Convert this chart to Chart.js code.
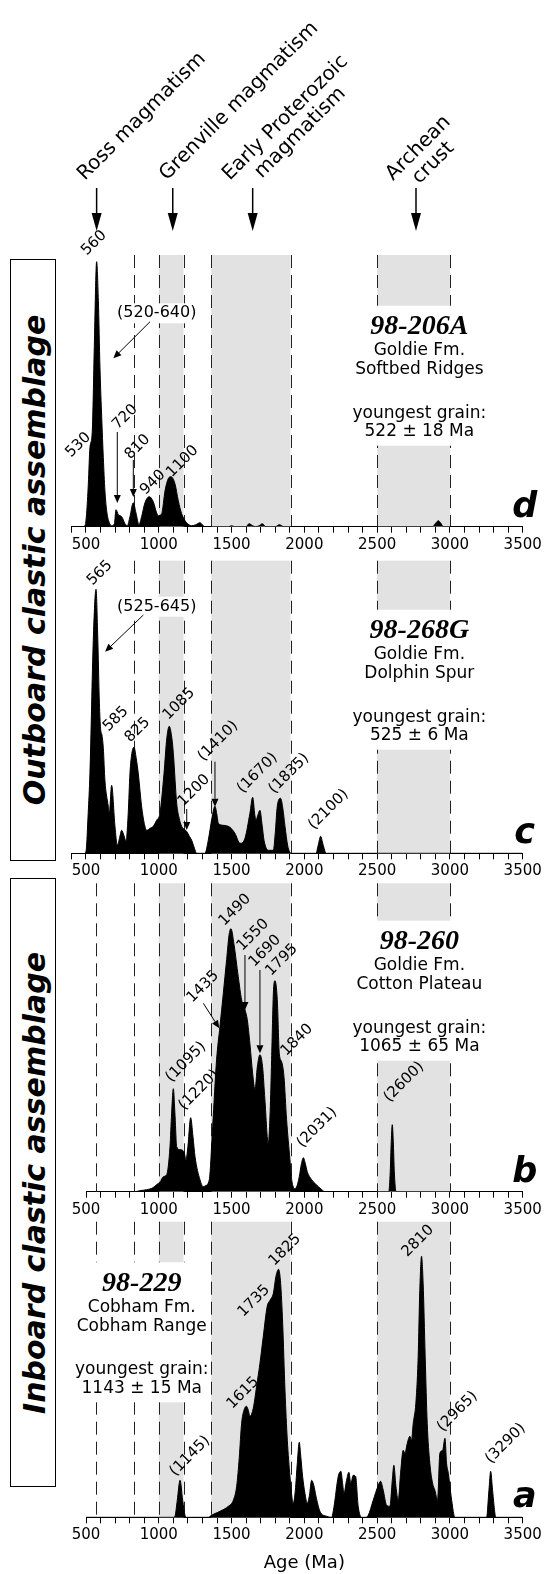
<!DOCTYPE html>
<html>
<head>
<meta charset="utf-8">
<script src="https://cdn.jsdelivr.net/npm/chart.js@4.4.1/dist/chart.umd.min.js"></script>
<style>
  html, body { margin: 0; padding: 0; background: #fff; }
  #page { position: relative; width: 547px; height: 1574px; overflow: hidden; }
  canvas { position: absolute; left: 0; }
  .group { position: absolute; left: 10px; width: 44px; border: 1px solid #000; }
  .group span {
    position: absolute; left: 52%; top: 50%;
    transform: translate(-50%, -50%) rotate(-90deg);
    white-space: nowrap; font: italic bold 30px "DejaVu Sans"; color: #000;
  }
</style>
</head>
<body>
<div id="page">
  <div class="group" style="top:259px;height:600px"><span>Outboard clastic assemblage</span></div>
  <div class="group" style="top:878px;height:607px"><span>Inboard clastic assemblage</span></div>
  <canvas id="chartD" width="547" height="560" style="top:0px"></canvas>
  <canvas id="chartC" width="547" height="340" style="top:540px"></canvas>
  <canvas id="chartB" width="547" height="345" style="top:875px"></canvas>
  <canvas id="chartA" width="547" height="359" style="top:1215px"></canvas>
</div>
<script>
/* ─── Data: [age (Ma), relative probability] ─── */

const sample206A = [
  [470,0],[493,1],[504,13],[516,43],[527,79],[543,95],[557,180],[573,265],[585,226],[596,159],
  [608,109],[619,69],[630,36],[642,16],[660,4],[677,1],[695,3],[706,17],[722,12],[745,10],
  [768,3],[784,1],[802,10],[825,24],[843,14],[864,2],[882,10],[905,24],[935,30],[962,25],
  [985,14],[997,11],[1020,13],[1043,36],[1065,48],[1084,50],[1111,43],[1134,26],[1157,13],[1191,4],
  [1226,1],[1255,2],[1283,4],[1300,2],[1315,0],[1480,0],[1500,1],[1520,0],[1600,0],[1620,3],
  [1645,1],[1665,0],[1690,1],[1711,3],[1735,0],[1800,0],[1828,2],[1860,0],[2880,0],[2905,4],
  [2920,6],[2935,4],[2955,0],[3500,0]
];

const sample268G = [
  [490,0],[500,2],[515,40],[527,80],[550,213],[569,264],[580,220],[592,150],[600,125],[610,118],
  [619,105],[630,73],[653,47],[660,40],[676,68],[699,27],[715,8],[730,15],[745,23],[760,18],
  [775,12],[790,40],[802,80],[815,100],[830,106],[845,95],[859,80],[882,47],[900,30],[917,23],
  [940,25],[962,27],[985,33],[1008,40],[1036,80],[1055,115],[1072,127],[1090,115],[1100,100],[1123,50],
  [1140,35],[1157,27],[1175,24],[1191,22],[1210,17],[1226,13],[1245,5],[1260,0],[1317,0],[1340,13],
  [1365,35],[1386,47],[1400,38],[1409,30],[1443,28],[1489,26],[1523,20],[1558,10],[1592,15],[1626,40],
  [1645,56],[1660,38],[1668,33],[1680,38],[1695,43],[1710,28],[1723,13],[1752,3],[1787,3],[1800,20],
  [1814,47],[1837,55],[1852,45],[1867,27],[1885,8],[1897,2],[1910,0],[2080,0],[2095,8],[2112,17],
  [2128,9],[2150,0],[3500,0]
];

const sample260 = [
  [840,0],[870,1],[917,2],[960,4],[985,7],[1010,10],[1031,15],[1054,17],[1077,45],[1088,78],
  [1100,103],[1111,78],[1123,45],[1146,42],[1173,40],[1187,32],[1200,45],[1219,74],[1235,55],[1249,35],
  [1283,12],[1306,5],[1320,6],[1347,12],[1370,65],[1397,132],[1420,165],[1443,198],[1466,232],[1484,258],
  [1496,263],[1516,248],[1546,215],[1569,192],[1592,182],[1608,172],[1626,148],[1645,118],[1661,102],[1677,125],
  [1695,137],[1713,125],[1729,92],[1752,48],[1765,80],[1775,132],[1787,198],[1798,211],[1814,192],[1828,138],
  [1844,130],[1860,115],[1878,72],[1901,32],[1913,12],[1935,3],[1950,6],[1965,15],[1980,28],[1993,34],
  [2007,28],[2020,20],[2050,12],[2075,8],[2096,5],[2120,2],[2141,0],[2580,0],[2590,20],[2597,50],
  [2604,67],[2611,50],[2618,20],[2630,0],[3500,0]
];

const sample229 = [
  [500,0],[1100,0],[1111,1],[1127,17],[1146,37],[1164,17],[1180,2],[1190,0],[1345,0],[1352,1],
  [1420,6],[1478,11],[1512,17],[1535,31],[1553,60],[1569,94],[1585,107],[1603,111],[1615,107],[1626,101],
  [1649,109],[1672,131],[1695,154],[1718,181],[1745,211],[1764,217],[1787,224],[1805,241],[1823,248],[1837,234],
  [1851,194],[1867,127],[1883,77],[1901,41],[1915,20],[1924,14],[1938,27],[1952,55],[1965,75],[1976,60],
  [1988,41],[2004,24],[2020,14],[2035,22],[2050,37],[2065,32],[2080,21],[2107,6],[2153,1],[2187,0],
  [2203,10],[2233,41],[2251,46],[2262,35],[2272,24],[2290,37],[2306,45],[2319,34],[2336,42],[2352,41],
  [2370,11],[2393,0],[2420,0],[2439,2],[2473,17],[2508,32],[2524,36],[2542,27],[2565,12],[2588,11],
  [2604,37],[2615,52],[2629,31],[2645,17],[2661,44],[2679,67],[2691,64],[2707,74],[2725,81],[2736,77],
  [2748,94],[2766,114],[2782,161],[2793,227],[2805,261],[2816,234],[2830,161],[2844,94],[2862,54],[2881,34],
  [2897,27],[2915,17],[2931,64],[2950,67],[2966,79],[2977,54],[2989,44],[3012,17],[3034,0],[3252,0],
  [3268,27],[3280,46],[3293,27],[3316,0],[3500,0]
];

const tickLabels = [500, 1000, 1500, 2000, 2500, 3000, 3500];
const greyBands = [[1000, 1170], [1360, 1905], [2500, 3000]];

const headerAges = [573, 1096, 1645, 2767];
const headerLines = [['Ross magmatism'], ['Grenville magmatism'], ['Early Proterozoic', 'magmatism'], ['Archean', 'crust']];
const headerDx = [-12, -6, -23, -23];

/* ─── Annotations per panel ───────────────────────────────────── */

const panelD = {
  letter: 'd',
  dashed: [830],
  header: true,
  peaks: [['560', 555, 283.7], ['530', 448, 81.7], ['720', 768, 109.7], ['810', 854, 79.7], ['940', 960, 44.2], ['1100', 1163, 65.2]],
  flat: [['(520-640)', 986, 213.4]],
  arrows: [[940, 205, 688, 168.4], [715, 94.7, 715, 23.7], [825, 66.7, 825, 29.7]],
  block: { age: 2790, h: 200, box: [2500, 3000], title: '98-206A', lines: ['Goldie Fm.', 'Softbed Ridges', 'youngest grain:', '522 ± 18 Ma'] }
};

const panelC = {
  letter: 'c',
  dashed: [830],
  peaks: [['565', 596, 280.3], ['585', 706, 134.3], ['825', 854, 123.3], ['1085', 1139, 149.3], ['1200', 1242, 62.8],
          ['(1410)', 1407, 112.3], ['(1670)', 1678, 80.3], ['(1835)', 1894, 79.8], ['(2100)', 2166, 43.8]],
  flat: [['(525-645)', 986, 246.6]],
  arrows: [[894, 238.3, 631, 201.6], [1192, 44.3, 1192, 23.3], [1386, 91.6, 1386, 46.6]],
  block: { age: 2790, h: 222.6, box: [2500, 3000], title: '98-268G', lines: ['Goldie Fm.', 'Dolphin Spur', 'youngest grain:', '525 ± 6 Ma'] }
};

const panelB = {
  letter: 'b',
  dashed: [570, 830],
  peaks: [['(1095)', 1187, 129.7], ['(1220)', 1276, 101.7], ['1435', 1304, 205], ['1490', 1524, 281.7], ['1550', 1647, 256.7],
          ['1690', 1730, 240.7], ['1795', 1844, 231.7], ['1840', 1949, 151.7], ['(2031)', 2087, 64.2], ['(2600)', 2685, 109.7]],
  flat: [],
  arrows: [[1306, 188.4, 1416, 163.4], [1592, 236.7, 1592, 181.7], [1695, 221.7, 1695, 138.4]],
  block: { age: 2790, h: 250, box: [2500, 3000], title: '98-260', lines: ['Goldie Fm.', 'Cotton Plateau', 'youngest grain:', '1065 ± 65 Ma'] }
};

const panelA = {
  letter: 'a',
  dashed: [570, 830],
  peaks: [['(1145)', 1214, 61.3], ['1615', 1579, 124.3], ['1735', 1654, 216.3], ['1825', 1867, 267.3],
          ['2810', 2781, 276.3], ['(2965)', 3052, 105.8], ['(3290)', 3382, 73.8]],
  flat: [],
  arrows: [],
  block: { age: 883, h: 234, box: [540, 1320], title: '98-229', lines: ['Cobham Fm.', 'Cobham Range', 'youngest grain:', '1143 ± 15 Ma'] }
};

/* ─── Drawing helpers ─────────────────────────────────────────── */

const SANS = '"DejaVu Sans", sans-serif';

function arrow(ctx, x1, y1, x2, y2, head, half) {
  const ang = Math.atan2(y2 - y1, x2 - x1);
  const bx = x2 - head * Math.cos(ang), by = y2 - head * Math.sin(ang);
  ctx.beginPath(); ctx.moveTo(x1, y1); ctx.lineTo(bx, by); ctx.stroke();
  ctx.beginPath();
  ctx.moveTo(x2, y2);
  ctx.lineTo(bx + half * Math.sin(ang), by - half * Math.cos(ang));
  ctx.lineTo(bx - half * Math.sin(ang), by + half * Math.cos(ang));
  ctx.closePath(); ctx.fill();
}

const panelPlugin = {
  id: 'panel',
  beforeDatasetsDraw(chart, args, opts) {
    const { ctx, chartArea: a, scales: { x, y } } = chart;
    ctx.save();
    ctx.fillStyle = '#e2e2e2';
    greyBands.forEach(([s, e]) => {
      const x0 = x.getPixelForValue(s), x1 = x.getPixelForValue(e);
      ctx.fillRect(x0, a.top, x1 - x0, a.bottom - a.top);
    });
    ctx.strokeStyle = '#222';
    ctx.lineWidth = 1;
    ctx.setLineDash([13, 7]);
    opts.dashed.concat(greyBands.flat()).forEach(age => {
      const px = Math.round(x.getPixelForValue(age)) + 0.5;
      ctx.beginPath(); ctx.moveTo(px, a.top); ctx.lineTo(px, a.bottom); ctx.stroke();
    });
    ctx.setLineDash([]);
    // white panel behind the sample description
    const b = opts.block;
    const ty = y.getPixelForValue(b.h);
    const bx0 = x.getPixelForValue(b.box[0]) - 3, bx1 = x.getPixelForValue(b.box[1]) + 3;
    ctx.fillStyle = '#fff';
    ctx.fillRect(bx0, ty - 21, bx1 - bx0, 140);
    ctx.restore();
  },
  afterDatasetsDraw(chart, args, opts) {
    const { ctx, chartArea: a, scales: { x, y } } = chart;
    ctx.save();
    ctx.fillStyle = '#000';
    ctx.strokeStyle = '#000';

    // rotated peak ages
    ctx.font = '15px ' + SANS;
    ctx.textAlign = 'center';
    ctx.textBaseline = 'middle';
    opts.peaks.forEach(([t, age, h]) => {
      ctx.save();
      ctx.translate(x.getPixelForValue(age), y.getPixelForValue(h));
      ctx.rotate(-Math.PI / 4);
      ctx.fillText(t, 0, 0);
      ctx.restore();
    });

    // horizontal range labels on a white ground
    ctx.font = '16px ' + SANS;
    opts.flat.forEach(([t, age, h]) => {
      const px = x.getPixelForValue(age), py = y.getPixelForValue(h);
      const w = ctx.measureText(t).width;
      ctx.fillStyle = '#fff';
      ctx.fillRect(px - w / 2 - 2, py - 10, w + 4, 20);
      ctx.fillStyle = '#000';
      ctx.fillText(t, px, py);
    });

    ctx.lineWidth = 1;
    opts.arrows.forEach(([a1, h1, a2, h2]) => {
      arrow(ctx, x.getPixelForValue(a1), y.getPixelForValue(h1), x.getPixelForValue(a2), y.getPixelForValue(h2), 8, 3.5);
    });

    // sample description
    const b = opts.block;
    const bx = x.getPixelForValue(b.age), ty = y.getPixelForValue(b.h);
    ctx.font = 'italic bold 28px "Liberation Serif", serif';
    ctx.fillText(b.title, bx, ty);
    ctx.font = '17px ' + SANS;
    const offs = [24, 43, 86.5, 105];
    b.lines.forEach((t, i) => ctx.fillText(t, bx, ty + offs[i]));

    // panel letter
    ctx.font = 'italic bold 35px ' + SANS;
    ctx.textBaseline = 'alphabetic';
    ctx.fillText(opts.letter, a.right + 2, a.bottom - 10);

    // magmatic sources across the top
    if (opts.header) {
      ctx.font = '20px ' + SANS;
      headerAges.forEach((age, i) => {
        const ax = x.getPixelForValue(age);
        const lines = headerLines[i];
        ctx.save();
        ctx.translate(ax + headerDx[i], 181);
        ctx.rotate(-Math.PI / 4);
        const w0 = ctx.measureText(lines[0]).width;
        ctx.textAlign = 'left';
        ctx.fillText(lines[0], 0, 0);
        if (lines[1]) {
          ctx.textAlign = 'center';
          ctx.fillText(lines[1], w0 / 2, 21);
        }
        ctx.restore();
        ctx.lineWidth = 1.5;
        arrow(ctx, ax, 188, ax, 231, 18, 5);
      });
    }
    ctx.restore();
  }
};

function makeChart(id, points, xMin, yMax, padTop, axisH, panel, withTitle) {
  const padLeft = 86 - (500 - xMin) * 0.14557;
  return new Chart(document.getElementById(id), {
    type: 'line',
    data: {
      datasets: [{
        data: points.map(([age, p]) => ({ x: age, y: p })),
        borderColor: '#000',
        backgroundColor: '#000',
        borderWidth: 1,
        pointRadius: 0,
        fill: 'origin',
        cubicInterpolationMode: 'monotone'
      }]
    },
    options: {
      responsive: false,
      animation: false,
      events: [],
      layout: { padding: { top: padTop, left: padLeft, right: 24.3, bottom: 0 } },
      plugins: {
        legend: { display: false },
        tooltip: { enabled: false },
        panel: panel
      },
      scales: {
        x: {
          type: 'linear',
          min: xMin,
          max: 3500,
          afterFit: s => { s.height = axisH; },
          border: { display: true, color: '#000', width: 1 },
          grid: { drawOnChartArea: false, drawTicks: true, tickLength: 6, color: '#000' },
          ticks: {
            stepSize: 100,
            autoSkip: false,
            maxRotation: 0,
            padding: 3,
            color: '#000',
            font: { family: 'DejaVu Sans', size: 15 },
            callback: v => tickLabels.includes(v) ? String(v) : ''
          },
          title: {
            display: !!withTitle,
            text: 'Age (Ma)',
            color: '#000',
            font: { family: 'DejaVu Sans', size: 18 },
            padding: 0
          }
        },
        y: { display: false, min: 0, max: yMax }
      }
    },
    plugins: [panelPlugin]
  });
}

makeChart('chartD', sample206A, 400, 271.7, 255, 33.3, panelD);
makeChart('chartC', sample268G, 400, 292.6, 20.7, 26.7, panelC);
makeChart('chartB', sample260, 500, 308.4, 8.3, 28.3, panelB);
makeChart('chartA', sample229, 500, 295.6, 6.7, 56.7, panelA, true);
</script>
</body>
</html>
